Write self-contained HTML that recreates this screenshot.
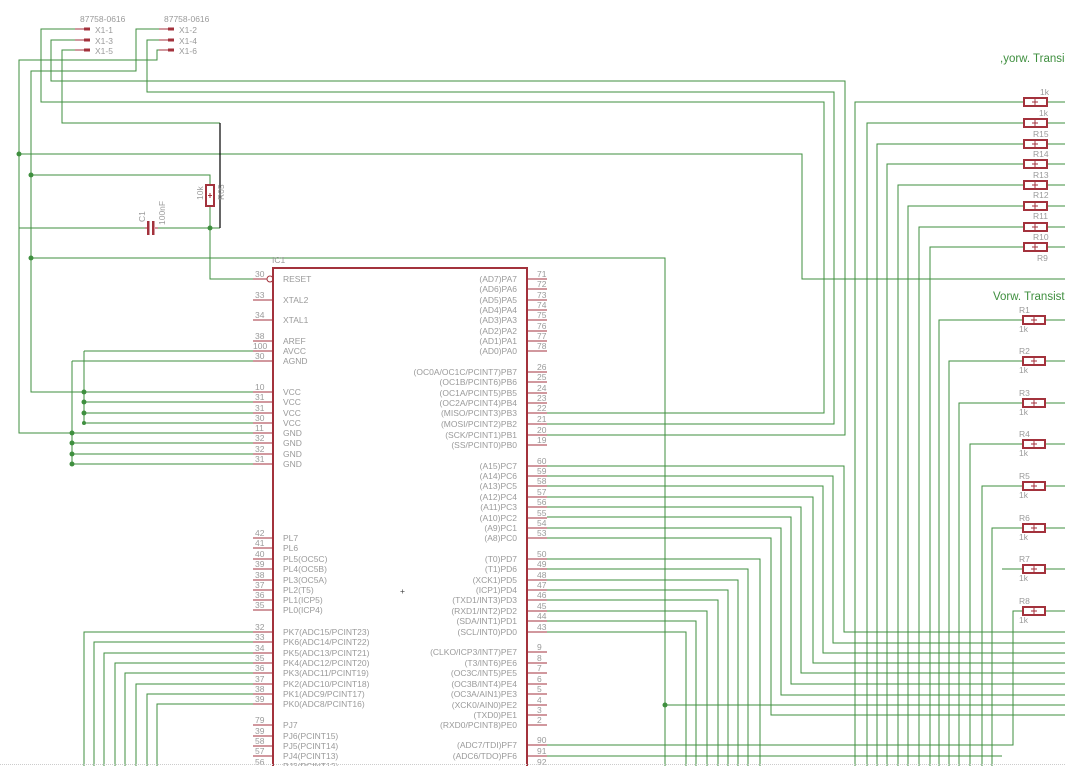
<!DOCTYPE html>
<html><head><meta charset="utf-8"><style>
html,body{margin:0;padding:0;background:#fff;width:1065px;height:766px;overflow:hidden}
svg{display:block}
text{font-family:"Liberation Sans",sans-serif;font-size:8.5px;fill:#9a9a9a}
.g{fill:none;stroke:#3f8f3f;stroke-width:1}
.r{fill:none;stroke:#a3323c;stroke-width:1}
.rb{fill:#fff;stroke:#a3323c;stroke-width:2}
.d{fill:#3f8f3f}
.rt text{text-anchor:end}
</style></head><body>
<svg width="1065" height="766" viewBox="0 0 1065 766" xmlns="http://www.w3.org/2000/svg">
<text x="80" y="22">87758-0616</text><text x="164" y="22">87758-0616</text>
<text x="95" y="33">X1-1</text><text x="95" y="44">X1-3</text><text x="95" y="54">X1-5</text>
<text x="179" y="33">X1-2</text><text x="179" y="44">X1-4</text><text x="179" y="54">X1-6</text>
<g class="r" stroke-width="3">
<path d="M75 29H90M75 40H90M75 50H90M159 29H174M159 40H174M159 50H174" stroke-width="1"/>
<path d="M84 29H90M84 40H90M84 50H90M168 29H174M168 40H174M168 50H174" stroke-width="3"/>
</g>
<g class="g">
<path d="M75 29H41V102H824V413H547"/>
<path d="M75 40H51V81H845V435H547"/>
<path d="M159 40H147V92H834V424H547"/>
<path d="M159 29H136V71H31V392H253"/>
<path d="M159 50H157V60H19V433H253"/>
<path d="M75 50H62V123H220"/>
<path d="M19 154H802V279H1065"/>
<path d="M31 175H210V185"/>
<path d="M19 228H145M155 228H220"/>
<path d="M210 206V279H253"/>
<path d="M31 258H665V766M665 705H1065"/>
<path d="M84 351H253M84 351V423M84 402H253M84 413H253M84 423H253"/>
<path d="M72 361H253M72 361V464M72 443H253M72 454H253M72 464H253"/>
<path d="M253 632H84V766M253 642H94V766M253 653H104V766M253 663H115V766M253 673H125V766M253 684H136V766M253 694H147V766M253 704H157V766"/>
<path d="M547 466H844V632H1065M547 476H833V643H1065M547 486H823V653H1065M547 497H813V663H1065M547 507H801V673H1065M547 517H791V684H1065M547 528H781V695H1065M547 538H771V715H1065"/>
<path d="M547 559H760V766M547 569H748V766M547 580H738V766M547 590H728V766M547 600H718V766M547 611H707V766M547 621H696V766M547 632H686V766"/>
<path d="M547 745H1013V611H1023M547 756H1002M1002 569H1023"/>
<path d="M855 766V102H1024M867 766V123H1024M877 766V144H1024M887 766V164H1024M898 766V185H1024M908 766V206H1024M919 766V227H1024M930 766V247H1024"/>
<path d="M1047 102H1065M1047 123H1065M1047 144H1065M1047 164H1065M1047 185H1065M1047 206H1065M1047 227H1065M1047 247H1065"/>
<path d="M939 766V320H1023M949 766V361H1023M959 766V403H1023M970 766V444H1023M982 766V486H1023M992 766V528H1023"/>
<path d="M1045 320H1065M1045 361H1065M1045 403H1065M1045 444H1065M1045 486H1065M1045 528H1065M1045 569H1065M1045 611H1065"/>
</g>
<path d="M220 123V228" stroke="#000" stroke-width="1.2"/>
<g class="d">
<circle cx="19" cy="154" r="2.5"/><circle cx="31" cy="175" r="2.5"/><circle cx="210" cy="228" r="2.5"/><circle cx="31" cy="258" r="2.5"/><circle cx="665" cy="705" r="2.5"/>
<circle cx="84" cy="392" r="2.5"/><circle cx="84" cy="402" r="2.5"/><circle cx="84" cy="413" r="2.5"/><circle cx="84" cy="423" r="2"/>
<circle cx="72" cy="433" r="2.5"/><circle cx="72" cy="443" r="2.5"/><circle cx="72" cy="454" r="2.5"/><circle cx="72" cy="464" r="2.5"/>
</g>
<path d="M145 228H148M155 228H158" class="r"/>
<rect x="147" y="221" width="2.5" height="14" fill="#a3323c"/><rect x="152" y="221" width="2.5" height="14" fill="#a3323c"/>
<text transform="translate(145,222) rotate(-90)">C1</text>
<text transform="translate(165,225) rotate(-90)">100nF</text>
<rect x="206" y="185" width="8" height="21" class="rb"/>
<path d="M210 193v5M208 195.5h4" stroke="#a3323c"/>
<text transform="translate(203,200) rotate(-90)">10k</text>
<text transform="translate(224,200) rotate(-90)">R05</text>
<text x="272" y="263">IC1</text>
<path d="M273 766V268H527V766" fill="none" stroke="#a3323c" stroke-width="2"/>
<text x="400" y="594" style="fill:#444">+</text>
<g class="r">
<path d="M253 279H267M253 300H273M253 320H273M253 341H273M253 351H273M253 361H273M253 392H273M253 402H273M253 413H273M253 423H273M253 433H273M253 443H273M253 454H273M253 464H273M253 538H273M253 548H273M253 559H273M253 569H273M253 580H273M253 590H273M253 600H273M253 610H273M253 632H273M253 642H273M253 653H273M253 663H273M253 673H273M253 684H273M253 694H273M253 704H273M253 725H273M253 736H273M253 746H273M253 756H273"/>
<circle cx="270" cy="279" r="3"/>
<path d="M527 279H547M527 289H547M527 300H547M527 310H547M527 320H547M527 331H547M527 341H547M527 351H547M527 372H547M527 382H547M527 393H547M527 403H547M527 413H547M527 424H547M527 435H547M527 445H547M527 466H547M527 476H547M527 486H547M527 497H547M527 507H547M527 518H547M527 528H547M527 538H547M527 559H547M527 569H547M527 580H547M527 590H547M527 600H547M527 611H547M527 621H547M527 632H547M527 652H547M527 663H547M527 673H547M527 684H547M527 694H547M527 705H547M527 715H547M527 725H547M527 745H547M527 756H547"/>
</g>
<g>
<text x="255" y="277">30</text><text x="283" y="282">RESET</text>
<text x="255" y="298">33</text><text x="283" y="303">XTAL2</text>
<text x="255" y="318">34</text><text x="283" y="323">XTAL1</text>
<text x="255" y="339">38</text><text x="283" y="344">AREF</text>
<text x="253" y="349">100</text><text x="283" y="354">AVCC</text>
<text x="255" y="359">30</text><text x="283" y="364">AGND</text>
<text x="255" y="390">10</text><text x="283" y="395">VCC</text>
<text x="255" y="400">31</text><text x="283" y="405">VCC</text>
<text x="255" y="411">31</text><text x="283" y="416">VCC</text>
<text x="255" y="421">30</text><text x="283" y="426">VCC</text>
<text x="255" y="431">11</text><text x="283" y="436">GND</text>
<text x="255" y="441">32</text><text x="283" y="446">GND</text>
<text x="255" y="452">32</text><text x="283" y="457">GND</text>
<text x="255" y="462">31</text><text x="283" y="467">GND</text>
<text x="255" y="536">42</text><text x="283" y="541">PL7</text>
<text x="255" y="546">41</text><text x="283" y="551">PL6</text>
<text x="255" y="557">40</text><text x="283" y="562">PL5(OC5C)</text>
<text x="255" y="567">39</text><text x="283" y="572">PL4(OC5B)</text>
<text x="255" y="578">38</text><text x="283" y="583">PL3(OC5A)</text>
<text x="255" y="588">37</text><text x="283" y="593">PL2(T5)</text>
<text x="255" y="598">36</text><text x="283" y="603">PL1(ICP5)</text>
<text x="255" y="608">35</text><text x="283" y="613">PL0(ICP4)</text>
<text x="255" y="630">32</text><text x="283" y="635">PK7(ADC15/PCINT23)</text>
<text x="255" y="640">33</text><text x="283" y="645">PK6(ADC14/PCINT22)</text>
<text x="255" y="651">34</text><text x="283" y="656">PK5(ADC13/PCINT21)</text>
<text x="255" y="661">35</text><text x="283" y="666">PK4(ADC12/PCINT20)</text>
<text x="255" y="671">36</text><text x="283" y="676">PK3(ADC11/PCINT19)</text>
<text x="255" y="682">37</text><text x="283" y="687">PK2(ADC10/PCINT18)</text>
<text x="255" y="692">38</text><text x="283" y="697">PK1(ADC9/PCINT17)</text>
<text x="255" y="702">39</text><text x="283" y="707">PK0(ADC8/PCINT16)</text>
<text x="255" y="723">79</text><text x="283" y="728">PJ7</text>
<text x="255" y="734">39</text><text x="283" y="739">PJ6(PCINT15)</text>
<text x="255" y="744">58</text><text x="283" y="749">PJ5(PCINT14)</text>
<text x="255" y="754">57</text><text x="283" y="759">PJ4(PCINT13)</text>
<text x="255" y="765">56</text><text x="283" y="769">PJ3(PCINT12)</text>
</g>
<g>
<text x="537" y="277">71</text><text x="537" y="287">72</text><text x="537" y="298">73</text><text x="537" y="308">74</text><text x="537" y="318">75</text><text x="537" y="329">76</text><text x="537" y="339">77</text><text x="537" y="349">78</text>
<text x="537" y="370">26</text><text x="537" y="380">25</text><text x="537" y="391">24</text><text x="537" y="401">23</text><text x="537" y="411">22</text><text x="537" y="422">21</text><text x="537" y="433">20</text><text x="537" y="443">19</text>
<text x="537" y="464">60</text><text x="537" y="474">59</text><text x="537" y="484">58</text><text x="537" y="495">57</text><text x="537" y="505">56</text><text x="537" y="516">55</text><text x="537" y="526">54</text><text x="537" y="536">53</text>
<text x="537" y="557">50</text><text x="537" y="567">49</text><text x="537" y="578">48</text><text x="537" y="588">47</text><text x="537" y="598">46</text><text x="537" y="609">45</text><text x="537" y="619">44</text><text x="537" y="630">43</text>
<text x="537" y="650">9</text><text x="537" y="661">8</text><text x="537" y="671">7</text><text x="537" y="682">6</text><text x="537" y="692">5</text><text x="537" y="703">4</text><text x="537" y="713">3</text><text x="537" y="723">2</text>
<text x="537" y="743">90</text><text x="537" y="754">91</text><text x="537" y="765">92</text>
</g>
<g class="rt">
<text x="517" y="282">(AD7)PA7</text><text x="517" y="292">(AD6)PA6</text><text x="517" y="303">(AD5)PA5</text><text x="517" y="313">(AD4)PA4</text><text x="517" y="323">(AD3)PA3</text><text x="517" y="334">(AD2)PA2</text><text x="517" y="344">(AD1)PA1</text><text x="517" y="354">(AD0)PA0</text>
<text x="517" y="375">(OC0A/OC1C/PCINT7)PB7</text><text x="517" y="385">(OC1B/PCINT6)PB6</text><text x="517" y="396">(OC1A/PCINT5)PB5</text><text x="517" y="406">(OC2A/PCINT4)PB4</text><text x="517" y="416">(MISO/PCINT3)PB3</text><text x="517" y="427">(MOSI/PCINT2)PB2</text><text x="517" y="438">(SCK/PCINT1)PB1</text><text x="517" y="448">(SS/PCINT0)PB0</text>
<text x="517" y="469">(A15)PC7</text><text x="517" y="479">(A14)PC6</text><text x="517" y="489">(A13)PC5</text><text x="517" y="500">(A12)PC4</text><text x="517" y="510">(A11)PC3</text><text x="517" y="521">(A10)PC2</text><text x="517" y="531">(A9)PC1</text><text x="517" y="541">(A8)PC0</text>
<text x="517" y="562">(T0)PD7</text><text x="517" y="572">(T1)PD6</text><text x="517" y="583">(XCK1)PD5</text><text x="517" y="593">(ICP1)PD4</text><text x="517" y="603">(TXD1/INT3)PD3</text><text x="517" y="614">(RXD1/INT2)PD2</text><text x="517" y="624">(SDA/INT1)PD1</text><text x="517" y="635">(SCL/INT0)PD0</text>
<text x="517" y="655">(CLKO/ICP3/INT7)PE7</text><text x="517" y="666">(T3/INT6)PE6</text><text x="517" y="676">(OC3C/INT5)PE5</text><text x="517" y="687">(OC3B/INT4)PE4</text><text x="517" y="697">(OC3A/AIN1)PE3</text><text x="517" y="708">(XCK0/AIN0)PE2</text><text x="517" y="718">(TXD0)PE1</text><text x="517" y="728">(RXD0/PCINT8)PE0</text>
<text x="517" y="748">(ADC7/TDI)PF7</text><text x="517" y="759">(ADC6/TDO)PF6</text>
</g>
<g>
<rect x="1024" y="98" width="23" height="8" class="rb"/><rect x="1024" y="119" width="23" height="8" class="rb"/><rect x="1024" y="140" width="23" height="8" class="rb"/><rect x="1024" y="160" width="23" height="8" class="rb"/><rect x="1024" y="181" width="23" height="8" class="rb"/><rect x="1024" y="202" width="23" height="8" class="rb"/><rect x="1024" y="223" width="23" height="8" class="rb"/><rect x="1024" y="243" width="23" height="8" class="rb"/>
<rect x="1023" y="316" width="22" height="8" class="rb"/><rect x="1023" y="357" width="22" height="8" class="rb"/><rect x="1023" y="399" width="22" height="8" class="rb"/><rect x="1023" y="440" width="22" height="8" class="rb"/><rect x="1023" y="482" width="22" height="8" class="rb"/><rect x="1023" y="524" width="22" height="8" class="rb"/><rect x="1023" y="565" width="22" height="8" class="rb"/><rect x="1023" y="607" width="22" height="8" class="rb"/>
</g>
<path d="M1035 99v6M1032 102h6M1035 120v6M1032 123h6M1035 141v6M1032 144h6M1035 161v6M1032 164h6M1035 182v6M1032 185h6M1035 203v6M1032 206h6M1035 224v6M1032 227h6M1035 244v6M1032 247h6M1034 317v6M1031 320h6M1034 358v6M1031 361h6M1034 400v6M1031 403h6M1034 441v6M1031 444h6M1034 483v6M1031 486h6M1034 525v6M1031 528h6M1034 566v6M1031 569h6M1034 608v6M1031 611h6" stroke="#a3323c"/>
<text x="1040" y="95">1k</text><text x="1039" y="116">1k</text><text x="1033" y="137">R15</text><text x="1033" y="157">R14</text><text x="1033" y="178">R13</text><text x="1033" y="198">R12</text><text x="1033" y="219">R11</text><text x="1033" y="240">R10</text><text x="1037" y="261">R9</text>
<text x="1019" y="313">R1</text><text x="1019" y="332">1k</text><text x="1019" y="354">R2</text><text x="1019" y="373">1k</text><text x="1019" y="396">R3</text><text x="1019" y="415">1k</text><text x="1019" y="437">R4</text><text x="1019" y="456">1k</text><text x="1019" y="479">R5</text><text x="1019" y="498">1k</text><text x="1019" y="521">R6</text><text x="1019" y="540">1k</text><text x="1019" y="562">R7</text><text x="1019" y="581">1k</text><text x="1019" y="604">R8</text><text x="1019" y="623">1k</text>
<text x="1000" y="62" style="fill:#3f8f3f;font-size:11.5px">,yorw. Transistoren</text>
<text x="993" y="300" style="fill:#3f8f3f;font-size:11.5px">Vorw. Transistoren</text>
<path d="M0 764.5H1065" stroke="#ccc" stroke-dasharray="1 1"/>
</svg>
</body></html>
